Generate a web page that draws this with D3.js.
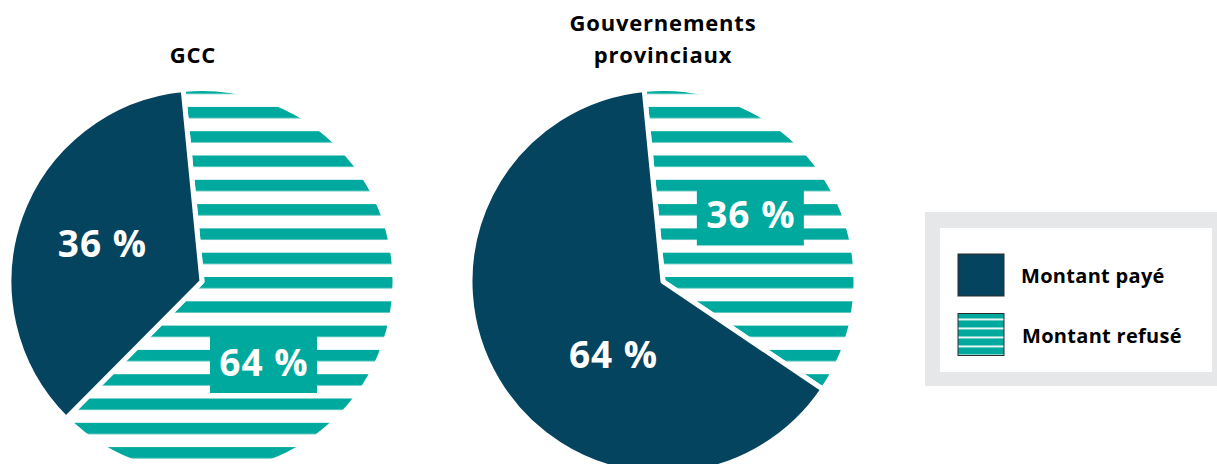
<!DOCTYPE html>
<html>
<head>
<meta charset="utf-8">
<script src="https://cdn.jsdelivr.net/npm/d3@7"></script>
<style>
  html, body { margin: 0; padding: 0; background: #ffffff; }
  svg { display: block; }
  text { font-family: "Open Sans", "Lato", sans-serif; font-weight: 700; }
</style>
</head>
<body>
<svg id="chart" width="1217" height="464"></svg>
<script>
// Share of claimed amounts paid vs. refused, by government level
const groups = ["GCC", "Gouvernements provinciaux"];
const titleLines = [["GCC"], ["Gouvernements", "provinciaux"]];
const categories = ["Montant refusé", "Montant payé"];
const refusedPct = [64, 36];
const paidPct = [36, 64];
const legendLabels = ["Montant payé", "Montant refusé"];

const W = 1217, H = 464;
const DARK = "#05445e", TEAL = "#00a99d";

const svg = d3.select("#chart");
const defs = svg.append("defs");

// horizontal stripe fill used for the refused share
const stripe = defs.append("pattern")
  .attr("id", "stripes")
  .attr("patternUnits", "userSpaceOnUse")
  .attr("x", 0).attr("y", 92.7 % 24.3)
  .attr("width", 40).attr("height", 24.3);
stripe.append("rect").attr("width", 40).attr("height", 24.3).attr("fill", "#fff");
stripe.append("rect").attr("width", 40).attr("height", 11.3).attr("fill", TEAL);

// finer stripe fill for the legend swatch
const stripeSmall = defs.append("pattern")
  .attr("id", "stripesSmall")
  .attr("patternUnits", "userSpaceOnUse")
  .attr("x", 0).attr("y", 318.5)
  .attr("width", 20).attr("height", 9);
stripeSmall.append("rect").attr("width", 20).attr("height", 9).attr("fill", TEAL);
stripeSmall.append("rect").attr("width", 20).attr("height", 1.8).attr("fill", "#fff");

const color = d3.scaleOrdinal().domain(categories).range(["url(#stripes)", DARK]);

const cx = d3.scalePoint().domain(groups).range([202, 663]);
const cy = 281.5, R = 193;
const deg = Math.PI / 180;
const start = -5.6 * deg;

const pie = d3.pie().sort(null).value(d => d.value)
  .startAngle(start).endAngle(start + 2 * Math.PI);
const arc = d3.arc().innerRadius(0).outerRadius(R);

// label placement per group: [angle in degrees, distance from centre, boxed]
const labelPlacement = [
  [[142.8, 101.7, true], [-69.2, 107, false]],
  [[52.7, 109.8, true], [-145.8, 88.9, false]]
];

groups.forEach((g, gi) => {
  const data = categories.map((c, ci) => ({ cat: c, value: ci === 0 ? refusedPct[gi] : paidPct[gi] }));
  const gEl = svg.append("g").attr("transform", `translate(${cx(g)},${cy})`);

  gEl.selectAll("path").data(pie(data)).join("path")
    .attr("d", arc)
    .attr("fill", d => color(d.data.cat))
    .attr("stroke", "#fff")
    .attr("stroke-width", 5)
    .attr("stroke-linejoin", "round");

  data.forEach((d, ci) => {
    const [aDeg, dist, boxed] = labelPlacement[gi][ci];
    const x = dist * Math.sin(aDeg * deg);
    const y = -dist * Math.cos(aDeg * deg);
    if (boxed) {
      gEl.append("rect")
        .attr("x", x - 53.5).attr("y", y - 30.5)
        .attr("width", 107).attr("height", 61)
        .attr("fill", TEAL);
    }
    gEl.append("text")
      .attr("x", x + 0.5).attr("y", y + 13.3)
      .attr("text-anchor", "middle")
      .attr("fill", "#fff")
      .attr("font-size", 37)
      .attr("letter-spacing", 1)
      .text(`${d.value} %`);
  });

  // title above each pie
  const lines = titleLines[gi];
  const t = svg.append("text")
    .attr("text-anchor", "middle")
    .attr("font-size", 22)
    .attr("letter-spacing", 0.8)
    .attr("fill", "#000");
  lines.forEach((ln, li) => {
    t.append("tspan")
      .attr("x", gi === 0 ? cx(g) - 9 : cx(g))
      .attr("y", 63 - (lines.length - 1 - li) * 31.6)
      .text(ln);
  });
});

// legend
const lg = svg.append("g");
lg.append("rect").attr("x", 925).attr("y", 212).attr("width", 310).attr("height", 174).attr("fill", "#e6e7e8");
lg.append("rect").attr("x", 940).attr("y", 228).attr("width", 272).attr("height", 144).attr("fill", "#fff");
const legendFill = ["#05445e", "url(#stripesSmall)"];
const ly = d3.scalePoint().domain(legendLabels).range([275, 334.5]);
legendLabels.forEach((lab, i) => {
  lg.append("rect")
    .attr("x", 958).attr("y", ly(lab) - 21)
    .attr("width", 46).attr("height", 42)
    .attr("fill", legendFill[i])
    .attr("stroke", "#2b2b2b").attr("stroke-width", 1);
  lg.append("text")
    .attr("x", 1021 + i).attr("y", ly(lab) + 8)
    .attr("font-size", 20)
    .attr("letter-spacing", 0.3)
    .attr("fill", "#000")
    .text(lab);
});
</script>
</body>
</html>
